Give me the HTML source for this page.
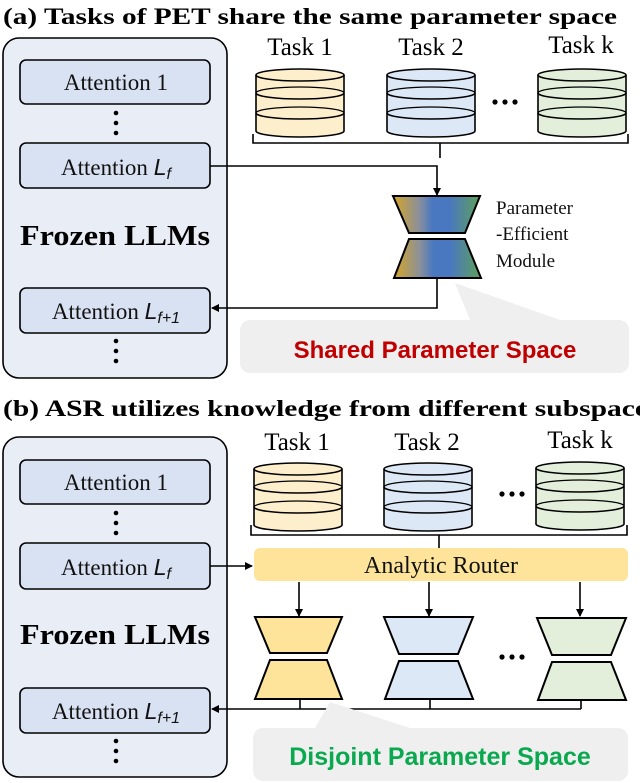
<!DOCTYPE html>
<html><head><meta charset="utf-8"><style>html,body{margin:0;padding:0;background:#fff}svg{display:block}</style></head><body>
<svg width="640" height="783" viewBox="0 0 640 783" xmlns="http://www.w3.org/2000/svg" font-family="Liberation Serif, serif">
<defs>
<linearGradient id="g" x1="0" x2="1" y1="0" y2="0">
<stop offset="0" stop-color="#d6a626"/><stop offset="0.3" stop-color="#8a8f9a"/><stop offset="0.45" stop-color="#4a78c0"/><stop offset="0.65" stop-color="#4a78c0"/><stop offset="1" stop-color="#5da05a"/>
</linearGradient>
<marker id="ar" markerWidth="8" markerHeight="8" refX="7" refY="4" orient="auto" markerUnits="userSpaceOnUse"><path d="M0,0 L8,4 L0,8 z" fill="#000"/></marker>
<g id="cyl">
<path d="M0,6 L0,62 A44,6 0 0 0 88,62 L88,6" stroke="#000" stroke-width="1.6"/>
<ellipse cx="44" cy="6" rx="44" ry="6" stroke="#000" stroke-width="1.6"/>
<path d="M0,24 A44,6 0 0 0 88,24 M0,44 A44,6 0 0 0 88,44" fill="none" stroke="#000" stroke-width="1.6"/>
<path d="M0,24 A44,6 0 0 1 88,24 M0,44 A44,6 0 0 1 88,44" fill="none" stroke="#000" stroke-width="1.2"/>
</g>
</defs>
<text x="3" y="24" font-size="23" font-weight="bold" textLength="614" lengthAdjust="spacingAndGlyphs">(a) Tasks of PET share the same parameter space</text>
<text x="3" y="416" font-size="23" font-weight="bold" textLength="645" lengthAdjust="spacingAndGlyphs">(b) ASR utilizes knowledge from different subspace</text>

<g stroke="#000" stroke-width="1.6">
<rect x="3" y="38" width="224" height="340" rx="16" fill="#e9edf5"/>
<rect x="20" y="60" width="190" height="44" rx="6" fill="#d9e2f2"/>
<rect x="20" y="143" width="190" height="45" rx="6" fill="#d9e2f2"/>
<rect x="20" y="288" width="190" height="45" rx="6" fill="#d9e2f2"/>
<rect x="3" y="437" width="224" height="340" rx="16" fill="#e9edf5"/>
<rect x="20" y="460" width="190" height="44" rx="6" fill="#d9e2f2"/>
<rect x="20" y="543" width="190" height="46" rx="6" fill="#d9e2f2"/>
<rect x="20" y="688" width="190" height="45" rx="6" fill="#d9e2f2"/>
</g>
<g fill="#000">
<circle cx="116" cy="113" r="2.3"/><circle cx="116" cy="123" r="2.3"/><circle cx="116" cy="133" r="2.3"/>
<circle cx="116" cy="341" r="2.3"/><circle cx="116" cy="351" r="2.3"/><circle cx="116" cy="361" r="2.3"/>
<circle cx="116" cy="513" r="2.3"/><circle cx="116" cy="523" r="2.3"/><circle cx="116" cy="533" r="2.3"/>
<circle cx="116" cy="741" r="2.3"/><circle cx="116" cy="751" r="2.3"/><circle cx="116" cy="761" r="2.3"/>
</g>
<g font-size="23" text-anchor="middle" fill="#111">
<text x="116" y="90">Attention 1</text>
<text x="116" y="175">Attention <tspan font-family="Liberation Sans, sans-serif" font-style="italic">L</tspan><tspan font-family="Liberation Sans, sans-serif" font-style="italic" font-size="16" dy="4">f</tspan></text>
<text x="116" y="319">Attention <tspan font-family="Liberation Sans, sans-serif" font-style="italic">L</tspan><tspan font-family="Liberation Sans, sans-serif" font-style="italic" font-size="16" dy="4">f+1</tspan></text>
<text x="116" y="490">Attention 1</text>
<text x="116" y="575">Attention <tspan font-family="Liberation Sans, sans-serif" font-style="italic">L</tspan><tspan font-family="Liberation Sans, sans-serif" font-style="italic" font-size="16" dy="4">f</tspan></text>
<text x="116" y="719">Attention <tspan font-family="Liberation Sans, sans-serif" font-style="italic">L</tspan><tspan font-family="Liberation Sans, sans-serif" font-style="italic" font-size="16" dy="4">f+1</tspan></text>
</g>
<text x="20" y="245" font-size="29" font-weight="bold" textLength="190" lengthAdjust="spacingAndGlyphs">Frozen LLMs</text>
<text x="20" y="644" font-size="29" font-weight="bold" textLength="190" lengthAdjust="spacingAndGlyphs">Frozen LLMs</text>

<g font-size="25" text-anchor="middle">
<text x="300" y="55">Task 1</text><text x="431" y="55">Task 2</text><text x="581" y="53">Task k</text>
<text x="297" y="450">Task 1</text><text x="427" y="450">Task 2</text><text x="580" y="448">Task k</text>
</g>
<use href="#cyl" x="256" y="69" fill="#fdefcc"/>
<use href="#cyl" x="387" y="69" fill="#dde8f7"/>
<use href="#cyl" x="538" y="69" fill="#e3efdb"/>
<use href="#cyl" x="254" y="463" fill="#fdefcc"/>
<use href="#cyl" x="384" y="463" fill="#dde8f7"/>
<use href="#cyl" x="536" y="462" fill="#e3efdb"/>
<g fill="#000">
<circle cx="495" cy="102" r="2.6"/><circle cx="505" cy="102" r="2.6"/><circle cx="515" cy="102" r="2.6"/>
<circle cx="502" cy="494" r="2.6"/><circle cx="512" cy="494" r="2.6"/><circle cx="522" cy="494" r="2.6"/>
<circle cx="502" cy="657" r="2.6"/><circle cx="512" cy="657" r="2.6"/><circle cx="522" cy="657" r="2.6"/>
</g>
<g fill="none" stroke="#000" stroke-width="1.6">
<path d="M253,134 L253,143 L628,143 L628,134 M440,143 L440,158"/>
<path d="M210,166 L437,166 L437,195" marker-end="url(#ar)"/>
<path d="M437,278 L437,308 L212,308" marker-end="url(#ar)"/>
<path d="M251,525 L251,535 L627,535 L627,525 M439,535 L439,548"/>
<path d="M210,566 L252,566" marker-end="url(#ar)"/>
<path d="M580,582 L580,616" marker-end="url(#ar)"/>
<path d="M300,700 L300,709 M430,700 L430,709 M581,700 L581,709 M581,709 L212,709" marker-end="url(#ar)"/>
</g>
<path d="M299,582 L299,616" stroke="#000" stroke-width="1.6" marker-end="url(#ar)"/>
<path d="M429,582 L429,616" stroke="#000" stroke-width="1.6" marker-end="url(#ar)"/>
<g stroke="#000" stroke-width="2" fill="url(#g)">
<path d="M393,196 L480,196 L465,233 L409,233 Z"/>
<path d="M409,239 L465,239 L481,278 L394,278 Z"/>
</g>
<g font-size="19" fill="#111">
<text x="496" y="214">Parameter</text><text x="496" y="240">-Efficient</text><text x="496" y="267">Module</text>
</g>
<path d="M455,283 L470,320 L560,320 Z" fill="#efefef"/>
<rect x="240" y="320" width="389" height="53" rx="10" fill="#efefef"/>
<text x="435" y="358" font-family="Liberation Sans, sans-serif" font-size="24" font-weight="bold" fill="#c00000" text-anchor="middle">Shared Parameter Space</text>

<rect x="254" y="548" width="374" height="33" rx="6" fill="#fde49a"/>
<text x="441" y="573" font-size="24" text-anchor="middle" fill="#111">Analytic Router</text>
<g stroke="#000" stroke-width="2">
<path d="M255,617 L342,617 L327,653 L270,653 Z M270,660 L327,660 L342,699 L255,699 Z" fill="#fde49a"/>
<path d="M384,617 L473,617 L458,654 L399,654 Z M399,661 L458,661 L473,699 L385,699 Z" fill="#dde8f7"/>
<path d="M537,618 L626,618 L611,655 L552,655 Z M552,662 L611,662 L626,700 L538,700 Z" fill="#e3efdb"/>
</g>
<path d="M330,702 L315,728 L410,728 Z" fill="#efefef"/>
<rect x="253" y="728" width="375" height="53" rx="10" fill="#efefef"/>
<text x="440" y="765" font-family="Liberation Sans, sans-serif" font-size="25" font-weight="bold" fill="#0aa84f" text-anchor="middle">Disjoint Parameter Space</text>
</svg>
</body></html>
